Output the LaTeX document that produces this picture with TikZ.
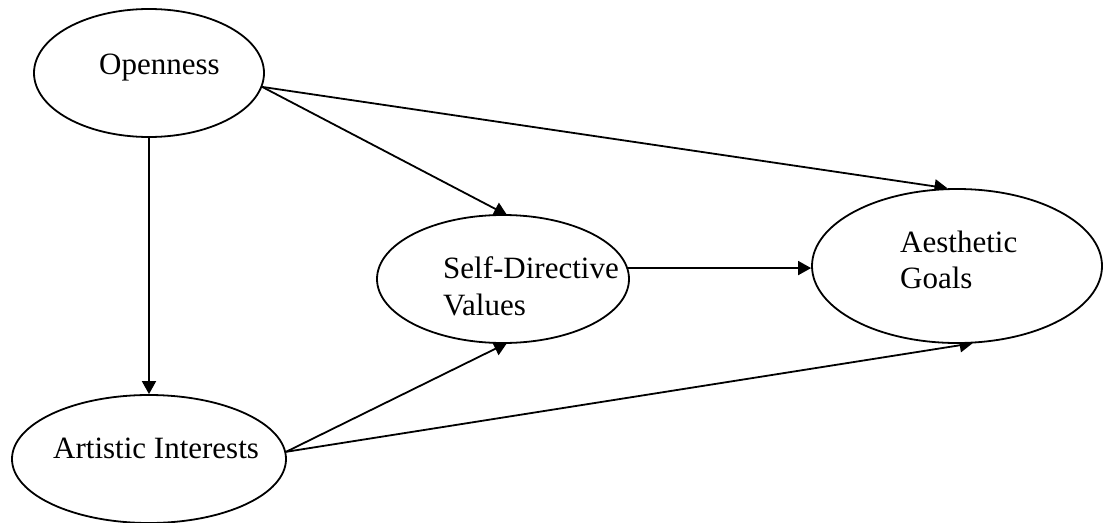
\documentclass[tikz,border=0pt]{standalone}
\usepackage{fontspec}
\setmainfont{Liberation Serif}
\usetikzlibrary{shapes.geometric,arrows.meta,backgrounds}
\begin{document}
\begin{tikzpicture}[x=1pt,y=-1pt,
  latent/.style={ellipse, draw, line width=1.8pt, fill=white, inner sep=0pt},
  lbl/.style={anchor=base west, inner sep=0pt, font=\fontsize{31}{36}\selectfont},
  conn/.style={line width=1.8pt, -{Triangle[length=13pt,width=14pt]}},
  sunk/.style={shorten >=-2pt}]
\useasboundingbox (0,0) rectangle (1105,522);

% latent variables
\node[latent, minimum width=230pt, minimum height=128pt] (open) at (149,73) {};
\node[latent, minimum width=274pt, minimum height=128pt] (ai) at (149,459) {};
\node[latent, minimum width=252pt, minimum height=128pt] (sdv) at (503,279) {};
\node[latent, minimum width=290pt, minimum height=154pt] (ag) at (957,266) {};

% labels
\node[lbl] (openT) at (99,74) {Openness};
\node[lbl] (aiT) at (53,458) {Artistic Interests};
\node[lbl] (sdvT1) at (443,278) {Self-Directive};
\node[lbl] (sdvT2) at (443,315) {Values};
\node[lbl] (agT1) at (900,252) {Aesthetic};
\node[lbl] (agT2) at (900,288) {Goals};

% paths, behind the ellipses
\begin{scope}[on background layer]
  \draw[conn] (open.-7) -- (ag.97);
  \draw[conn, sunk] (open.-7) -- (sdv.88);
  \draw[conn] (open.south) -- (ai.north);
  \draw[conn, sunk] (ai.3) -- (sdv.-88);
  \draw[conn, sunk] (ai.3) -- (ag.-80);
  \draw[conn] (sdv.5.5) -- (sdv.5.5 -| ag.west);
\end{scope}
\end{tikzpicture}
\end{document}
